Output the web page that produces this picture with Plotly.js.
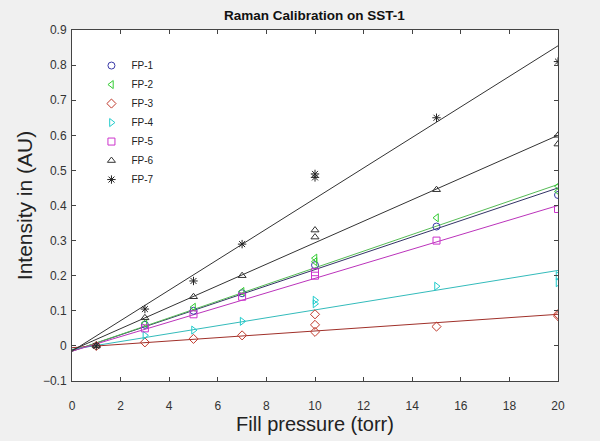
<!DOCTYPE html>
<html><head><meta charset="utf-8">
<script src="https://cdn.plot.ly/plotly-3.0.1.min.js"></script>
<style>html,body{margin:0;padding:0;background:#f0f0f0;}</style>
</head><body><div id="chart" style="width:600px;height:441px;"></div>
<script>
// Fill pressures (torr)
const xFP1 = [3, 5, 7, 10, 15, 20];
const yFP1 = [0.06, 0.10, 0.15, 0.23, 0.34, 0.43];
const xFP2 = [3, 5, 7, 10, 10, 15, 20, 20];
const yFP2 = [0.065, 0.11, 0.155, 0.25, 0.24, 0.365, 0.455, 0.44];
const xFP3 = [1, 3, 5, 7, 10, 10, 10, 15, 20, 20];
const yFP3 = [0.0, 0.01, 0.02, 0.03, 0.09, 0.06, 0.04, 0.055, 0.09, 0.085];
const xFP4 = [3, 5, 7, 10, 10, 15, 20, 20];
const yFP4 = [0.03, 0.045, 0.07, 0.13, 0.12, 0.17, 0.20, 0.18];
const xFP5 = [3, 5, 7, 10, 10, 15, 20];
const yFP5 = [0.05, 0.09, 0.14, 0.21, 0.20, 0.30, 0.39];
const xFP6 = [1, 3, 5, 7, 10, 10, 15, 20, 20];
const yFP6 = [0.0, 0.08, 0.14, 0.20, 0.33, 0.31, 0.445, 0.60, 0.575];
const xFP7 = [1, 3, 5, 7, 10, 10, 15, 20];
const yFP7 = [0.0, 0.105, 0.185, 0.29, 0.49, 0.48, 0.65, 0.81];
// Fitted lines: value at x=0 and x=20
const fitX = [0, 20];
const fitFP1 = [-0.015, 0.45];
const fitFP2 = [-0.015, 0.46];
const fitFP3 = [-0.005, 0.09];
const fitFP4 = [-0.01, 0.215];
const fitFP5 = [-0.015, 0.40];
const fitFP6 = [-0.012, 0.60];
const fitFP7 = [-0.015, 0.855];

const names = ['FP-1','FP-2','FP-3','FP-4','FP-5','FP-6','FP-7'];
const xs = [xFP1,xFP2,xFP3,xFP4,xFP5,xFP6,xFP7];
const ys = [yFP1,yFP2,yFP3,yFP4,yFP5,yFP6,yFP7];
const fits = [fitFP1,fitFP2,fitFP3,fitFP4,fitFP5,fitFP6,fitFP7];
const colors = ['#3a3aa8','#33cc33','#c0392b','#22cccc','#cc33cc','#333333','#222222'];
const lineColors = ['#333366','#55bb55','#a0302a','#33bbbb','#bb33bb','#333333','#333333'];
const symbols = ['circle-open','triangle-left-open','diamond-open','triangle-right-open','square-open','triangle-up-open','asterisk-open'];

const traces = [];
for (let i = 0; i < names.length; i++) {
  traces.push({x: fitX, y: fits[i], mode: 'lines', showlegend: false,
    line: {color: lineColors[i], width: 1}, hoverinfo: 'skip'});
}
for (let i = 0; i < names.length; i++) {
  traces.push({x: xs[i], y: ys[i], mode: 'markers', name: names[i],
    marker: {symbol: symbols[i], size: 7, color: colors[i], line: {width: 1, color: colors[i]}}});
}

const FONT = 'Liberation Sans, Arial, sans-serif';
const axisCommon = {showline: true, mirror: 'ticks', linecolor: '#444', linewidth: 1,
  ticks: 'inside', ticklen: 4, tickcolor: '#444', showgrid: false, zeroline: false,
  tickfont: {family: FONT, size: 12, color: '#333'}};

const layout = {
  width: 600, height: 441,
  paper_bgcolor: '#f0f0f0', plot_bgcolor: '#ffffff',
  margin: {l: 72, r: 42, t: 30, b: 60},
  title: {text: '<b>Raman Calibration on SST-1</b>', x: 0.524, xanchor: 'center', y: 0.966, yanchor: 'middle',
    font: {family: FONT, size: 13.5, color: '#111'}},
  xaxis: Object.assign({}, axisCommon, {range: [0, 20], dtick: 2, tick0: 0, ticklabelstandoff: 14,
    title: {text: 'Fill pressure (torr)', standoff: 0, font: {family: FONT, size: 20, color: '#222'}}}),
  yaxis: Object.assign({}, axisCommon, {range: [-0.1, 0.9], dtick: 0.1, tick0: 0, ticklabelstandoff: 2,
    title: {text: 'Intensity in (AU)', standoff: 4, font: {family: FONT, size: 21, color: '#222'}}}),
  legend: {x: 0.04, y: 0.94, xanchor: 'left', yanchor: 'top', bgcolor: 'rgba(0,0,0,0)',
    font: {family: FONT, size: 10, color: '#222'},
    tracegroupgap: 0, itemwidth: 30},
  showlegend: true
};

Plotly.newPlot('chart', traces, layout, {displayModeBar: false, staticPlot: true});
</script>
</body></html>
